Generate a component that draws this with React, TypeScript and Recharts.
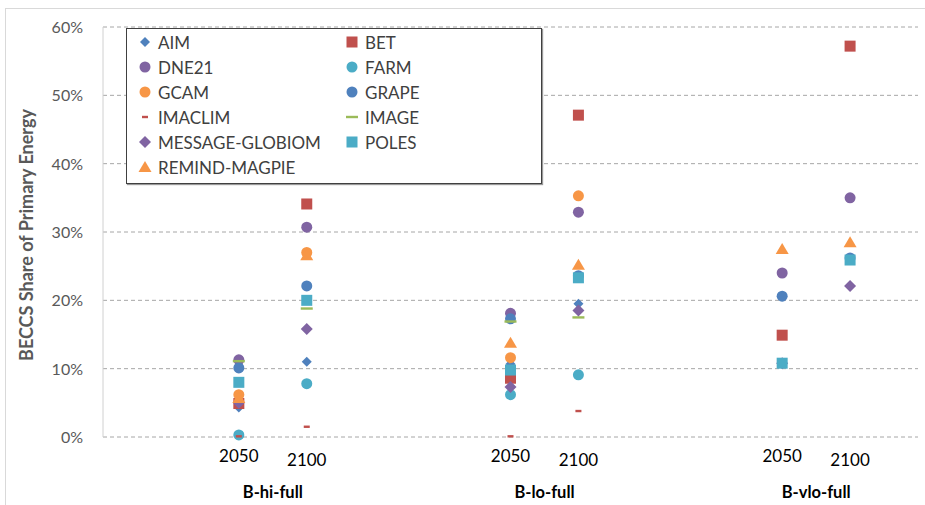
import React from 'react';
import { ScatterChart, Scatter, XAxis, YAxis, CartesianGrid } from 'recharts';

// x slot of each point: B-hi 2050/2100, B-lo 2050/2100, B-vlo 2050/2100
const xSlots = [1, 2, 5, 6, 9, 10];
const yearLabels = ['2050', '2100', '2050', '2100', '2050', '2100'];
const scenarios = ['B-hi-full', 'B-lo-full', 'B-vlo-full'];
const yTicks = [0, 10, 20, 30, 40, 50, 60];

// BECCS share of primary energy, % (null = not reported)
const aim = [4.3, 11.0, 10.7, 19.5, null, null];
const bet = [4.9, 34.1, 8.6, 47.1, 14.9, 57.2];
const dne21 = [11.3, 30.7, 18.1, 32.9, 24.0, 35.0];
const farm = [0.3, 7.8, 6.2, 9.1, null, null];
const gcam = [6.2, 27.0, 11.6, 35.3, null, null];
const grape = [10.1, 22.1, 17.3, 23.6, 20.6, 26.2];
const imaclim = [0.1, 1.5, 0.1, 3.8, null, null];
const image = [11.1, 18.8, 16.9, 17.5, null, null];
const message = [5.0, 15.8, 7.3, 18.5, 10.8, 22.1];
const poles = [8.0, 20.0, 9.8, 23.3, 10.8, 25.9];
const remind = [5.7, 26.6, 13.8, 25.2, 27.5, 28.5];

type Kind = 'diamond' | 'smalldiamond' | 'square' | 'circle' | 'dash' | 'line' | 'triangle';

const series: { name: string; values: (number | null)[]; color: string; kind: Kind }[] = [
  { name: 'AIM', values: aim, color: '#4F81BD', kind: 'smalldiamond' },
  { name: 'BET', values: bet, color: '#C0504D', kind: 'square' },
  { name: 'DNE21', values: dne21, color: '#8064A2', kind: 'circle' },
  { name: 'FARM', values: farm, color: '#4BACC6', kind: 'circle' },
  { name: 'GCAM', values: gcam, color: '#F79646', kind: 'circle' },
  { name: 'GRAPE', values: grape, color: '#4F81BD', kind: 'circle' },
  { name: 'IMACLIM', values: imaclim, color: '#C0504D', kind: 'dash' },
  { name: 'IMAGE', values: image, color: '#9BBB59', kind: 'line' },
  { name: 'MESSAGE-GLOBIOM', values: message, color: '#8064A2', kind: 'diamond' },
  { name: 'POLES', values: poles, color: '#4BACC6', kind: 'square' },
  { name: 'REMIND-MAGPIE', values: remind, color: '#F79646', kind: 'triangle' },
];

function Marker({ kind, color, cx, cy }: { kind: Kind; color: string; cx: number; cy: number }) {
  switch (kind) {
    case 'circle':
      return <circle cx={cx} cy={cy} r={5.5} fill={color} />;
    case 'square':
      return <rect x={cx - 5.5} y={cy - 5.5} width={11} height={11} fill={color} />;
    case 'diamond':
      return <polygon points={`${cx},${cy - 6} ${cx + 6},${cy} ${cx},${cy + 6} ${cx - 6},${cy}`} fill={color} />;
    case 'smalldiamond':
      return <polygon points={`${cx},${cy - 5} ${cx + 5},${cy} ${cx},${cy + 5} ${cx - 5},${cy}`} fill={color} />;
    case 'triangle':
      return <polygon points={`${cx},${cy - 6} ${cx + 6.5},${cy + 5} ${cx - 6.5},${cy + 5}`} fill={color} />;
    case 'dash':
      return <rect x={cx - 3} y={cy - 1.2} width={6} height={2.4} fill={color} />;
    case 'line':
      return <rect x={cx - 6} y={cy - 1.2} width={12} height={2.4} fill={color} />;
  }
  return null;
}

function XTick(props: any) {
  const { x, payload } = props;
  const i = xSlots.indexOf(payload.value);
  const isFirst = i % 2 === 0;
  return (
    <g>
      <text x={x} y={isFirst ? 462 : 466} textAnchor="middle" fontSize={17} fill="#000">
        {yearLabels[i]}
      </text>
      {isFirst && (
        <text x={x + 34} y={498} textAnchor="middle" fontSize={16.5} fontWeight="bold" fill="#000">
          {scenarios[i / 2]}
        </text>
      )}
    </g>
  );
}

function YTick(props: any) {
  const { y, payload } = props;
  return (
    <text x={83} y={y + 6} textAnchor="end" fontSize={16} fill="#595959">
      {payload.value + '%'}
    </text>
  );
}

function LegendBox() {
  const rows: typeof series[] = [];
  for (let i = 0; i < series.length; i += 2) rows.push(series.slice(i, i + 2));
  return (
    <div
      style={{
        position: 'absolute', left: 126, top: 28, width: 414, height: 154,
        border: '1px solid #404040', boxShadow: '1px 1px 1px #999', background: '#fff',
      }}
    >
      {rows.map((row, r) =>
        row.map((s, c) => (
          <div
            key={s.name}
            style={{
              position: 'absolute', left: c === 0 ? 10 : 217, top: 2 + r * 25,
              display: 'flex', alignItems: 'center', height: 22,
              fontSize: 17, color: '#404040', whiteSpace: 'nowrap',
            }}
          >
            <svg width={16} height={16} style={{ marginRight: 5 }}>
              <Marker kind={s.kind} color={s.color} cx={8} cy={8} />
            </svg>
            {s.name}
          </div>
        ))
      )}
    </div>
  );
}

export default function App() {
  return (
    <div style={{ position: 'absolute', left: 0, top: 0, width: 925, height: 505, background: '#fff', overflow: 'hidden', fontFamily: 'Lato, "Noto Sans", sans-serif' }}>
      <div style={{ position: 'absolute', left: 5, top: 8, width: 940, height: 520, border: '1px solid #d9d9d9' }} />
      <ScatterChart width={925} height={505} margin={{ top: 27, right: 7, left: 43, bottom: 0 }}>
        <CartesianGrid vertical={false} stroke="#a6a6a6" strokeDasharray="4 3" />
        <XAxis
          type="number"
          dataKey="x"
          domain={[-1, 11]}
          ticks={xSlots}
          axisLine={false}
          tickLine={false}
          tick={<XTick />}
          height={68}
          interval={0}
        />
        <YAxis
          type="number"
          dataKey="y"
          domain={[0, 60]}
          ticks={yTicks}
          width={60}
          axisLine={{ stroke: '#d0d0d0' }}
          tickLine={false}
          tick={<YTick />}
          interval={0}
        />
        {series.map((s) => (
          <Scatter
            key={s.name}
            name={s.name}
            data={s.values
              .map((v, i) => ({ x: xSlots[i], y: v }))
              .filter((d) => d.y !== null)}
            isAnimationActive={false}
            shape={(p: any) => <Marker kind={s.kind} color={s.color} cx={p.cx} cy={p.cy} />}
          />
        ))}
        <text
          x={0}
          y={0}
          transform="translate(33,235) rotate(-90)"
          textAnchor="middle"
          fontSize={18}
          fontWeight="bold"
          fill="#595959"
        >
          BECCS Share of Primary Energy
        </text>
      </ScatterChart>
      <LegendBox />
    </div>
  );
}
